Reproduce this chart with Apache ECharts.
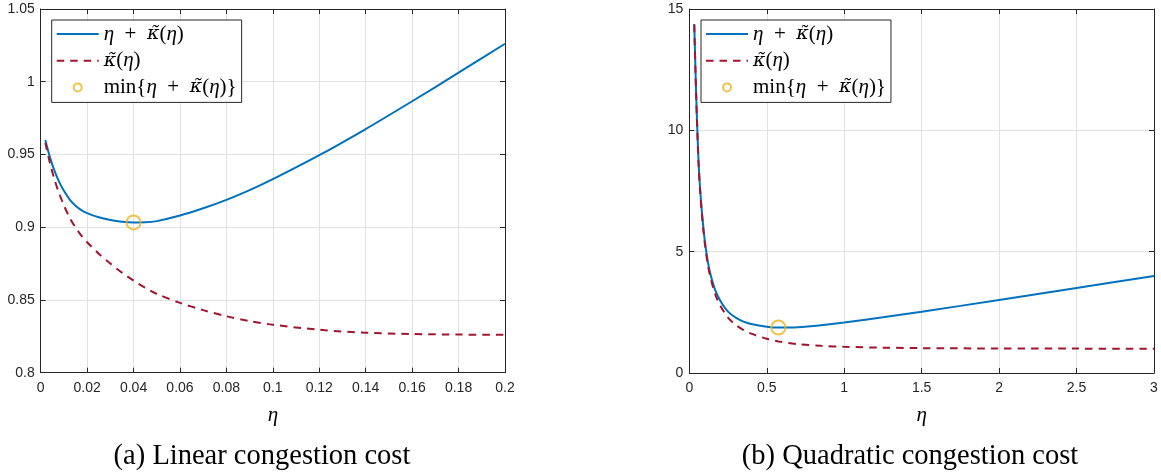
<!DOCTYPE html>
<html>
<head>
<meta charset="utf-8">
<script src="https://cdn.jsdelivr.net/npm/echarts@6/dist/echarts.min.js"></script>
<style>
  html, body { margin: 0; padding: 0; background: #ffffff; }
  #chart { width: 1161px; height: 476px; }
</style>
</head>
<body>
<div id="chart"></div>
<script>
// (a) Linear congestion cost
const etaA = [0.002, 0.004, 0.006, 0.008, 0.01, 0.0125, 0.015, 0.0175, 0.02, 0.025, 0.03, 0.035, 0.04,
              0.045, 0.05, 0.06, 0.07, 0.08, 0.09, 0.1, 0.12, 0.14, 0.16, 0.18, 0.2];
const kappaA = [0.958, 0.944, 0.9325, 0.923, 0.915, 0.9065, 0.8998, 0.8943, 0.8897, 0.8818, 0.875, 0.8688, 0.8633,
                0.8584, 0.8542, 0.848, 0.843, 0.8388, 0.8355, 0.833, 0.8295, 0.8275, 0.8266, 0.8262, 0.8261];
const totalA = [0.960, 0.948, 0.9385, 0.931, 0.925, 0.919, 0.9148, 0.9118, 0.9097, 0.9068, 0.905, 0.9038, 0.9033,
                0.9034, 0.9042, 0.908, 0.913, 0.9188, 0.9255, 0.933, 0.9495, 0.9675, 0.9866, 1.0062, 1.0261];
const minPointA = [0.04, 0.9033];
const xRangeA = [0, 0.2, 0.02];     // min, max, step
const yRangeA = [0.8, 1.05, 0.05];

// (b) Quadratic congestion cost
const etaB = [0.032, 0.035, 0.04, 0.045, 0.05, 0.06, 0.07, 0.08, 0.09, 0.1, 0.12, 0.14, 0.17, 0.2,
              0.25, 0.3, 0.35, 0.4, 0.5, 0.575, 0.7, 0.85, 1.0, 1.25, 1.5, 2.0, 2.5, 3.0];
const kappaB = [14.35, 13.6, 12.4, 11.3, 10.3, 8.6, 7.5, 6.65, 5.95, 5.35, 4.45, 3.85, 3.2, 2.78,
                2.28, 1.98, 1.77, 1.62, 1.41, 1.30, 1.19, 1.12, 1.08, 1.045, 1.025, 1.01, 1.005, 1.0];
const totalB = [14.38, 13.64, 12.44, 11.35, 10.35, 8.66, 7.57, 6.73, 6.04, 5.45, 4.57, 3.99, 3.37, 2.98,
                2.53, 2.28, 2.12, 2.02, 1.91, 1.875, 1.89, 1.97, 2.08, 2.295, 2.525, 3.01, 3.505, 4.0];
const minPointB = [0.575, 1.875];
const xRangeB = [0, 3, 0.5];
const yRangeB = [0, 15, 5];

const seriesNames = ['η + κ̃(η)', 'κ̃(η)', 'min{η + κ̃(η)}'];
const captions = ['(a) Linear congestion cost', '(b) Quadratic congestion cost'];

const INK = '#262626';
const BLUE = '#0072BD';
const RED = '#A2142F';
const GOLD = '#EDB120';

const pairs = (xs, ys) => xs.map((x, i) => [x, ys[i]]);

function xAxes(gridIndex, r) {
  const base = {
    type: 'value', gridIndex, min: r[0], max: r[1], interval: r[2],
    axisLine: { show: true, onZero: false, lineStyle: { color: INK, width: 1 } },
    axisTick: { show: true, inside: true, length: 5, lineStyle: { color: INK, width: 1 } }
  };
  return [
    Object.assign({}, base, {
      position: 'bottom',
      axisLabel: { color: INK, fontSize: 14, fontFamily: 'Liberation Sans, Arial, sans-serif', margin: 8 },
      splitLine: { show: true, lineStyle: { color: '#e1e1e1', width: 1 } },
      name: 'η', nameLocation: 'middle', nameGap: 32,
      nameTextStyle: { fontFamily: 'Liberation Serif, serif', fontStyle: 'italic', fontSize: 21, color: '#000' }
    }),
    Object.assign({}, base, {
      position: 'top', axisLabel: { show: false }, splitLine: { show: false }
    })
  ];
}

function yAxes(gridIndex, r) {
  const base = {
    type: 'value', gridIndex, min: r[0], max: r[1], interval: r[2],
    axisLine: { show: true, onZero: false, lineStyle: { color: INK, width: 1 } },
    axisTick: { show: true, inside: true, length: 5, lineStyle: { color: INK, width: 1 } }
  };
  return [
    Object.assign({}, base, {
      position: 'left',
      axisLabel: { color: INK, fontSize: 14, fontFamily: 'Liberation Sans, Arial, sans-serif', margin: 6 },
      splitLine: { show: true, lineStyle: { color: '#e1e1e1', width: 1 } }
    }),
    Object.assign({}, base, {
      position: 'right', axisLabel: { show: false }, splitLine: { show: false }
    })
  ];
}

function curveSeries(gridIndex, eta, total, kappa, minPoint) {
  const xi = gridIndex * 2, yi = gridIndex * 2;
  return [
    {
      name: seriesNames[0], type: 'line', xAxisIndex: xi, yAxisIndex: yi,
      data: pairs(eta, total), symbol: 'none', showSymbol: false,
      smooth: 0.3,
      lineStyle: { color: BLUE, width: 2 }, itemStyle: { color: BLUE },
      z: 3
    },
    {
      name: seriesNames[1], type: 'line', xAxisIndex: xi, yAxisIndex: yi,
      data: pairs(eta, kappa), symbol: 'none', showSymbol: false,
      smooth: 0.3,
      lineStyle: { color: RED, width: 2, type: [7.5, 6] }, itemStyle: { color: RED },
      z: 4
    },
    {
      name: seriesNames[2], type: 'scatter', xAxisIndex: xi, yAxisIndex: yi,
      data: [minPoint], symbol: 'circle', symbolSize: 14,
      itemStyle: { color: 'rgba(0,0,0,0)', borderColor: GOLD, borderWidth: 2 },
      emphasis: { disabled: true },
      z: 5
    }
  ];
}

function legendFor(left) {
  const serif = 'Liberation Serif, serif';
  const rich = {
    i: { fontFamily: serif, fontStyle: 'italic', fontSize: 21, lineHeight: 24, color: '#000' },
    k: { fontFamily: 'DejaVu Serif, serif', fontStyle: 'italic', fontSize: 19, lineHeight: 24, color: '#000' },
    r: { fontFamily: serif, fontSize: 21, lineHeight: 24, color: '#000' }
  };
  const fmt = {};
  fmt[seriesNames[0]] = '{i|η}{r|\u2002+\u2002}{k|κ̃}{r|(}{i|η}{r|)}';
  fmt[seriesNames[1]] = '{k|κ̃}{r|(}{i|η}{r|)}';
  fmt[seriesNames[2]] = '{r|min{}{i|η}{r|\u2002+\u2002}{k|κ̃}{r|(}{i|η}{r|)}}';
  const clear = { color: 'rgba(0,0,0,0)', borderWidth: 0 };
  return {
    data: [
      { name: seriesNames[0], itemStyle: clear },
      { name: seriesNames[1], itemStyle: clear },
      { name: seriesNames[2] }
    ],
    orient: 'vertical', left, top: 20,
    backgroundColor: '#ffffff', borderColor: INK, borderWidth: 1, borderRadius: 0,
    padding: [2, 5, 3, 4], itemGap: 2.7, itemWidth: 42, itemHeight: 8,
    selectedMode: false,
    textStyle: { fontFamily: serif, fontSize: 21, lineHeight: 24, color: '#000', rich },
    formatter: name => fmt[name]
  };
}

const chart = echarts.init(document.getElementById('chart'), null, { renderer: 'canvas' });

chart.setOption({
  backgroundColor: '#ffffff',
  animation: false,
  grid: [
    { left: 40.7, top: 9, width: 464.3, height: 363.7, containLabel: false },
    { left: 689.3, top: 9, width: 464.7, height: 364, containLabel: false }
  ],
  xAxis: [].concat(xAxes(0, xRangeA), xAxes(1, xRangeB)),
  yAxis: [].concat(yAxes(0, yRangeA), yAxes(1, yRangeB)),
  legend: [legendFor(51.7), legendFor(701)],
  series: [].concat(
    curveSeries(0, etaA, totalA, kappaA, minPointA),
    curveSeries(1, etaB, totalB, kappaB, minPointB)
  ),
  graphic: [
    {
      type: 'text',
      style: { x: 262, y: 457, text: captions[0], textAlign: 'center', textVerticalAlign: 'middle',
               font: '28.5px "Liberation Serif", serif', fill: '#000' }
    },
    {
      type: 'text',
      style: { x: 910, y: 457, text: captions[1], textAlign: 'center', textVerticalAlign: 'middle',
               font: '28.5px "Liberation Serif", serif', fill: '#000' }
    }
  ]
});
</script>
</body>
</html>
